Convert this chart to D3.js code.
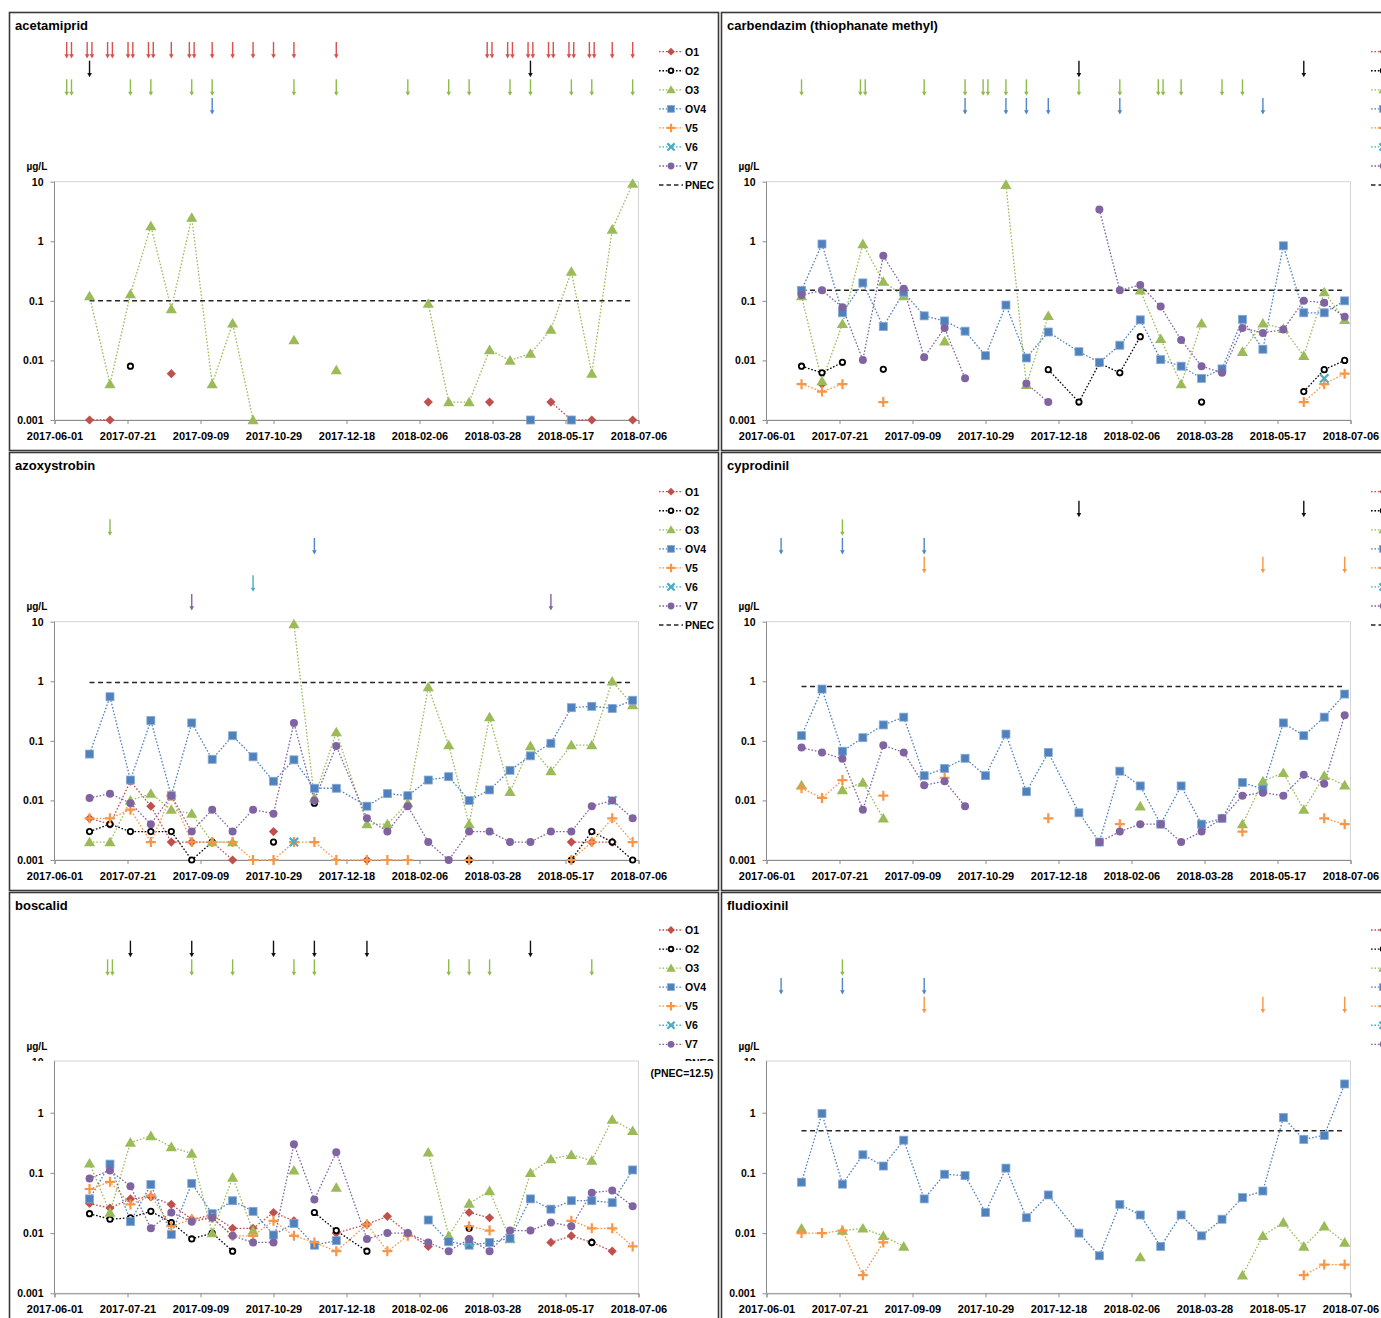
<!DOCTYPE html>
<html><head><meta charset="utf-8">
<script src="https://cdn.jsdelivr.net/npm/d3@7"></script>
<style>
body{margin:0;background:#fff}
svg{display:block;background:#fff}
</style>
</head><body>
<svg id="c" width="1381" height="1318"></svg>
<script>
const _ = null;
// sampling dates (27 campaigns)
const dates = ["2017-06-25","2017-07-09","2017-07-23","2017-08-06","2017-08-20","2017-09-03","2017-09-17","2017-10-01","2017-10-15","2017-10-29","2017-11-12","2017-11-26","2017-12-11","2018-01-01","2018-01-15","2018-01-29","2018-02-12","2018-02-26","2018-03-12","2018-03-26","2018-04-09","2018-04-23","2018-05-07","2018-05-21","2018-06-04","2018-06-18","2018-07-02"];
const xTickLabels = ["2017-06-01","2017-07-21","2017-09-09","2017-10-29","2017-12-18","2018-02-06","2018-03-28","2018-05-17","2018-07-06"];
const yTickValues = [0.001,0.01,0.1,1,10];
const yTickLabels = ["0.001","0.01","0.1","1","10"];
const stations = ["O1","O2","O3","OV4","V5","V6","V7"];
const legendLabels = ["O1","O2","O3","OV4","V5","V6","V7","PNEC"];
const titles = ["acetamiprid","carbendazim (thiophanate methyl)","azoxystrobin","cyprodinil","boscalid","fludioxinil"];
const pnecValues = [0.1,0.15,0.95,0.82,12.5,0.5];
const pnecNote = "(PNEC=12.5)";

// ---- acetamiprid (µg/L)
const acetamiprid_O1 = [0.001,0.001,_,_,0.006,_,_,_,_,_,_,_,_,_,_,_,0.002,_,_,0.002,_,_,0.002,0.001,0.001,_,0.001];
const acetamiprid_O2 = [_,_,0.008,_,_,_,_,_,_,_,_,_,_,_,_,_,_,_,_,_,_,_,_,_,_,_,_];
const acetamiprid_O3 = [0.12,0.004,0.13,1.8,0.073,2.5,0.004,0.042,0.001,_,0.022,_,0.0069,_,_,_,0.09,0.002,0.002,0.015,0.01,0.013,0.033,0.31,0.006,1.58,9.3];
const acetamiprid_OV4 = [_,_,_,_,_,_,_,_,_,_,_,_,_,_,_,_,_,_,_,_,_,0.001,_,0.001,_,_,_];
// ---- carbendazim
const carbendazim_O1 = [_,0.004,_,_,_,_,_,_,_,_,_,_,_,_,_,_,_,_,_,_,_,_,_,_,_,_,_];
const carbendazim_O2 = [0.008,0.0062,0.0093,_,0.0071,_,_,_,_,_,_,_,0.007,0.002,0.009,0.0062,0.025,_,_,0.002,_,_,_,_,0.003,0.007,0.01];
const carbendazim_O3 = [0.12,0.0045,0.041,0.9,0.21,0.12,_,0.021,_,_,8.9,0.0039,0.056,_,_,_,0.15,0.023,0.004,0.042,_,0.014,0.042,0.034,0.012,0.14,0.048];
const carbendazim_OV4 = [0.15,0.9,0.063,0.2,0.037,0.14,0.056,0.046,0.031,0.012,0.085,0.011,0.03,0.014,0.0093,0.018,0.048,0.0103,0.008,0.005,0.0072,0.049,0.0154,0.84,0.063,0.063,0.1];
const carbendazim_V5 = [0.004,0.003,0.004,_,0.002,_,_,_,_,_,_,_,_,_,_,_,_,_,_,_,_,_,_,_,0.002,0.004,0.006];
const carbendazim_V6 = [_,_,_,_,_,_,_,_,_,_,_,_,_,_,_,_,_,_,_,_,_,_,_,_,_,0.005,_];
const carbendazim_V7 = [0.125,0.15,0.078,0.0102,0.57,0.16,0.0113,0.035,0.005,_,_,0.0041,0.002,_,3.4,0.15,0.185,0.08,0.022,0.008,0.0062,0.035,0.029,0.033,0.1,0.093,0.054];
// ---- azoxystrobin
const azoxystrobin_O1 = [0.005,0.004,0.021,0.008,0.002,0.002,0.002,0.001,_,0.003,_,_,_,0.001,_,_,_,_,0.001,_,_,_,_,0.002,0.002,0.002,_];
const azoxystrobin_O2 = [0.003,0.004,0.003,0.003,0.003,0.001,0.002,_,_,0.002,_,0.009,_,_,_,_,_,_,0.001,_,_,_,_,0.001,0.003,0.002,0.001];
const azoxystrobin_O3 = [0.002,0.002,0.01,0.013,0.007,0.006,0.002,0.002,_,_,9.1,0.011,0.14,0.004,0.004,0.009,0.8,0.085,0.004,0.25,0.014,0.082,0.031,0.085,0.085,1.0,0.4];
const azoxystrobin_OV4 = [0.06,0.55,0.022,0.22,0.012,0.2,0.049,0.122,0.054,0.021,0.048,0.016,0.016,0.008,0.013,0.012,0.022,0.025,0.01,0.015,0.032,0.056,0.091,0.36,0.38,0.35,0.48];
const azoxystrobin_V5 = [0.005,0.005,0.007,0.002,0.012,0.002,0.002,0.002,0.001,0.001,0.002,0.002,0.001,0.001,0.001,0.001,_,_,0.001,_,_,_,_,0.001,0.002,0.005,0.002];
const azoxystrobin_V6 = [_,_,_,_,_,_,_,_,_,_,0.002,_,_,_,_,_,_,_,_,_,_,_,_,_,_,0.01,_];
const azoxystrobin_V7 = [0.011,0.013,0.009,0.004,0.012,0.003,0.007,0.003,0.007,0.006,0.2,0.01,0.082,0.005,0.003,0.008,0.002,0.001,0.003,0.003,0.002,0.002,0.003,0.003,0.008,0.01,0.005];
// ---- cyprodinil
const cyprodinil_O3 = [0.018,_,0.015,0.02,0.005,_,_,_,_,_,_,_,_,_,_,_,0.008,_,_,_,_,0.004,0.021,0.029,0.007,0.026,0.018];
const cyprodinil_OV4 = [0.122,0.74,0.067,0.113,0.185,0.25,0.026,0.0345,0.051,0.026,0.13,0.014,0.064,0.0062,0.002,0.031,0.0175,0.004,0.0175,0.004,0.005,0.02,0.0155,0.2,0.122,0.25,0.61];
const cyprodinil_V5 = [0.016,0.011,0.022,_,0.012,_,_,0.024,_,_,_,_,0.005,_,_,0.004,_,_,_,_,_,0.003,_,_,_,0.005,0.004];
const cyprodinil_V7 = [0.077,0.064,0.05,0.007,0.084,0.064,0.018,0.021,0.008,_,_,_,_,_,0.002,0.003,0.004,0.004,0.002,0.003,0.005,0.012,0.0135,0.012,0.027,0.019,0.27];
// ---- boscalid
const boscalid_O1 = [0.031,0.026,0.037,0.04,0.03,0.017,0.02,0.012,0.012,0.022,0.016,_,0.01,0.014,0.019,0.01,0.006,_,0.022,0.018,_,_,0.007,0.009,0.007,0.005,_];
const boscalid_O2 = [0.021,0.017,0.018,0.023,0.015,0.008,0.01,0.005,_,_,_,0.022,0.011,0.005,_,_,_,_,0.012,_,_,_,_,_,0.007,_,_];
const boscalid_O3 = [0.144,0.022,0.32,0.41,0.27,0.21,0.01,0.084,0.011,_,0.11,_,0.057,_,_,_,0.22,0.009,0.031,0.05,0.008,0.1,0.17,0.2,0.16,0.77,0.5];
const boscalid_OV4 = [0.037,0.14,0.0155,0.064,0.0095,0.067,0.021,0.0345,0.023,0.0093,0.0145,0.0063,0.0075,_,_,_,0.0165,0.0072,0.0063,0.007,0.0082,0.037,0.025,0.0345,0.0345,0.032,0.112];
const boscalid_V5 = [0.054,0.071,0.03,0.042,0.013,0.017,0.018,0.009,0.009,0.016,0.009,0.007,0.005,0.014,0.005,0.009,_,_,0.013,0.011,_,_,_,0.016,0.012,0.012,0.006];
const boscalid_V6 = [_,_,_,_,_,_,_,_,_,_,_,_,_,_,_,_,_,_,0.007,_,_,_,_,_,_,_,_];
const boscalid_V7 = [0.081,0.11,0.06,0.012,0.022,0.0155,0.018,0.009,0.007,0.007,0.3,0.036,0.22,0.008,0.01,0.01,0.007,0.005,0.008,0.005,0.011,0.011,0.015,0.013,0.047,0.051,0.028];
// ---- fludioxinil
const fludioxinil_O3 = [0.012,_,0.011,0.012,0.009,0.006,_,_,_,_,_,_,_,_,_,_,0.004,_,_,_,_,0.002,0.009,0.015,0.006,0.013,0.007];
const fludioxinil_OV4 = [0.07,0.97,0.065,0.2,0.13,0.35,0.037,0.095,0.09,0.022,0.12,0.018,0.043,0.01,0.0042,0.03,0.02,0.006,0.02,0.009,0.017,0.039,0.05,0.83,0.36,0.42,3.0];
const fludioxinil_V5 = [0.01,0.01,0.011,0.002,0.007,_,_,_,_,_,_,_,_,_,_,_,_,_,_,_,_,_,_,_,0.002,0.003,0.003];

// ---- application arrows: [date, number of arrows]
const acetamiprid_arrows_O1 = [["2017-06-11",2],["2017-06-25",2],["2017-07-09",2],["2017-07-23",2],["2017-08-06",2],["2017-08-20",1],["2017-09-03",2],["2017-09-17",1],["2017-10-01",1],["2017-10-15",1],["2017-10-29",1],["2017-11-12",1],["2017-12-11",1],["2018-03-26",2],["2018-04-09",2],["2018-04-23",2],["2018-05-07",2],["2018-05-21",2],["2018-06-04",2],["2018-06-18",1],["2018-07-02",1]];
const acetamiprid_arrows_O2 = [["2017-06-25",1],["2018-04-23",1]];
const acetamiprid_arrows_O3 = [["2017-06-11",2],["2017-07-23",1],["2017-08-06",1],["2017-09-03",1],["2017-09-17",1],["2017-11-12",1],["2017-12-11",1],["2018-01-29",1],["2018-02-26",1],["2018-03-12",1],["2018-04-09",1],["2018-04-23",1],["2018-05-21",1],["2018-06-04",1],["2018-07-02",1]];
const acetamiprid_arrows_OV4 = [["2017-09-17",1]];
const carbendazim_arrows_O2 = [["2018-01-01",1],["2018-06-04",1]];
const carbendazim_arrows_O3 = [["2017-06-25",1],["2017-08-06",2],["2017-09-17",1],["2017-10-15",1],["2017-10-29",2],["2017-11-12",1],["2017-11-26",1],["2018-01-01",1],["2018-01-29",1],["2018-02-26",2],["2018-03-12",1],["2018-04-09",1],["2018-04-23",1]];
const carbendazim_arrows_OV4 = [["2017-10-15",1],["2017-11-12",1],["2017-11-26",1],["2017-12-11",1],["2018-01-29",1],["2018-05-07",1]];
const azoxystrobin_arrows_O3 = [["2017-07-09",1]];
const azoxystrobin_arrows_OV4 = [["2017-11-26",1]];
const azoxystrobin_arrows_V6 = [["2017-10-15",1]];
const azoxystrobin_arrows_V7 = [["2017-09-03",1],["2018-05-07",1]];
const cyprodinil_arrows_O2 = [["2018-01-01",1],["2018-06-04",1]];
const cyprodinil_arrows_O3 = [["2017-07-23",1]];
const cyprodinil_arrows_OV4 = [["2017-06-11",1],["2017-07-23",1],["2017-09-17",1]];
const cyprodinil_arrows_V5 = [["2017-09-17",1],["2018-05-07",1],["2018-07-02",1]];
const boscalid_arrows_O2 = [["2017-07-23",1],["2017-09-03",1],["2017-10-29",1],["2017-11-26",1],["2018-01-01",1],["2018-04-23",1]];
const boscalid_arrows_O3 = [["2017-07-09",2],["2017-09-03",1],["2017-10-01",1],["2017-11-12",1],["2017-11-26",1],["2018-02-26",1],["2018-03-12",1],["2018-03-26",1],["2018-06-04",1]];
const fludioxinil_arrows_O3 = [["2017-07-23",1]];
const fludioxinil_arrows_OV4 = [["2017-06-11",1],["2017-07-23",1],["2017-09-17",1]];
const fludioxinil_arrows_V5 = [["2017-09-17",1],["2018-05-07",1],["2018-07-02",1]];

// ---------------- rendering ----------------
const W = 1381;
const FONT = '"Liberation Sans", Arial, sans-serif';
const COLORS = {O1:'#c0504d',O2:'#000000',O3:'#9bbb59',OV4:'#4f81bd',V5:'#f79646',V6:'#4bacc6',V7:'#8064a2'};
const ARROWC = {O1:'#d9504c',O2:'#111111',O3:'#8fbb4a',OV4:'#4a86c8',V5:'#f79646',V6:'#3fb0cc',V7:'#8064a2'};
const parse = d3.utcParse('%Y-%m-%d');
const svg = d3.select('#c');

const panelDefs = [
  {series:{O1:acetamiprid_O1,O2:acetamiprid_O2,O3:acetamiprid_O3,OV4:acetamiprid_OV4},
   arrows:{O1:acetamiprid_arrows_O1,O2:acetamiprid_arrows_O2,O3:acetamiprid_arrows_O3,OV4:acetamiprid_arrows_OV4}},
  {series:{O1:carbendazim_O1,O2:carbendazim_O2,O3:carbendazim_O3,OV4:carbendazim_OV4,V5:carbendazim_V5,V6:carbendazim_V6,V7:carbendazim_V7},
   arrows:{O2:carbendazim_arrows_O2,O3:carbendazim_arrows_O3,OV4:carbendazim_arrows_OV4}},
  {series:{O1:azoxystrobin_O1,O2:azoxystrobin_O2,O3:azoxystrobin_O3,OV4:azoxystrobin_OV4,V5:azoxystrobin_V5,V6:azoxystrobin_V6,V7:azoxystrobin_V7},
   arrows:{O3:azoxystrobin_arrows_O3,OV4:azoxystrobin_arrows_OV4,V6:azoxystrobin_arrows_V6,V7:azoxystrobin_arrows_V7}},
  {series:{O3:cyprodinil_O3,OV4:cyprodinil_OV4,V5:cyprodinil_V5,V7:cyprodinil_V7},
   arrows:{O2:cyprodinil_arrows_O2,O3:cyprodinil_arrows_O3,OV4:cyprodinil_arrows_OV4,V5:cyprodinil_arrows_V5}},
  {series:{O1:boscalid_O1,O2:boscalid_O2,O3:boscalid_O3,OV4:boscalid_OV4,V5:boscalid_V5,V6:boscalid_V6,V7:boscalid_V7},
   arrows:{O2:boscalid_arrows_O2,O3:boscalid_arrows_O3}},
  {series:{O3:fludioxinil_O3,OV4:fludioxinil_OV4,V5:fludioxinil_V5},
   arrows:{O3:fludioxinil_arrows_O3,OV4:fludioxinil_arrows_OV4,V5:fludioxinil_arrows_V5}}
];
panelDefs.forEach((p,i)=>{p.title=titles[i]; p.pnec=pnecValues[i];});

const colX = [9.5, 721.5];
const rowY = [12.5, 452.5, 892.5];

function drawMarker(g, st, cx, cy, k) {
  k = k || 1;
  const c = COLORS[st];
  if (st==='O1') {
    const s=4.6*k;
    g.append('path').attr('d',`M${cx},${cy-s}L${cx+s},${cy}L${cx},${cy+s}L${cx-s},${cy}Z`).attr('fill',c);
  } else if (st==='O2') {
    g.append('circle').attr('cx',cx).attr('cy',cy).attr('r',2.7*k).attr('fill','#fff').attr('stroke','#000').attr('stroke-width',1.8);
  } else if (st==='O3') {
    g.append('path').attr('d',`M${cx},${cy-5.4*k}L${cx+5.6*k},${cy+4.2*k}L${cx-5.6*k},${cy+4.2*k}Z`).attr('fill',c);
  } else if (st==='OV4') {
    const s=4*k;
    g.append('rect').attr('x',cx-s).attr('y',cy-s).attr('width',2*s).attr('height',2*s).attr('fill',c).attr('stroke','#86a9d4').attr('stroke-width',0.8);
  } else if (st==='V5') {
    const s=5*k;
    g.append('path').attr('d',`M${cx-s},${cy}H${cx+s}M${cx},${cy-s}V${cy+s}`).attr('stroke',c).attr('stroke-width',2.2).attr('fill','none');
  } else if (st==='V6') {
    const s=4.2*k;
    g.append('path').attr('d',`M${cx-s},${cy-s}L${cx+s},${cy+s}M${cx-s},${cy+s}L${cx+s},${cy-s}`).attr('stroke',c).attr('stroke-width',2.2).attr('fill','none');
  } else if (st==='V7') {
    g.append('circle').attr('cx',cx).attr('cy',cy).attr('r',4*k).attr('fill',c);
  }
}

function drawArrow(g, cx, top, color) {
  const len = 16.5;
  g.append('line').attr('x1',cx).attr('x2',cx).attr('y1',top).attr('y2',top+len-3).attr('stroke',color).attr('stroke-width',1.4);
  g.append('path').attr('d',`M${cx-2.3},${top+len-4.2}L${cx+2.3},${top+len-4.2}L${cx},${top+len}Z`).attr('fill',color);
}

const problems = [];

function drawPanel(def, idx) {
  const col = idx % 2, row = Math.floor(idx/2);
  const X0 = colX[col], Y0 = rowY[row], short = (row===2);
  const g = svg.append('g');
  const pl = X0 + 45, pr = pl + 584;
  const pt = Y0 + (short ? 168.5 : 169.2);
  const pb = Y0 + (short ? 400.8 : 407.5);
  const x = d3.scaleUtc().domain([parse(xTickLabels[0]), parse(xTickLabels[xTickLabels.length-1])]).range([pl, pr]);
  const y = short ? d3.scaleLog().domain([0.001, 1]).range([pb, Y0 + 220.2])
                  : d3.scaleLog().domain([0.001, 10]).range([pb, pt]);

  // panel frame
  g.append('rect').attr('x',X0).attr('y',Y0).attr('width', col===0 ? 709 : 720).attr('height', row===2 ? 470 : 438)
    .attr('fill','none').attr('stroke','#3a3a3a').attr('stroke-width',1.6);
  // title
  g.append('text').attr('x',X0+5.5).attr('y',Y0+17.5).attr('font-family',FONT).attr('font-weight','bold').attr('font-size',13).text(def.title);
  // unit
  g.append('text').attr('x',X0+17).attr('y',Y0+157.5).attr('font-family',FONT).attr('font-weight','bold').attr('font-size',10).text('µg/L');

  // plot area
  g.append('rect').attr('x',pl).attr('y',pt).attr('width',pr-pl).attr('height',pb-pt).attr('fill','#fff').attr('stroke','#d4d4d4').attr('stroke-width',1);

  // y axis
  const yUsed = yTickValues.filter(v => y(v) >= pt - 0.5);
  const ya = g.append('g').attr('transform',`translate(${pl},0)`)
    .call(d3.axisLeft(y).tickValues(yUsed).tickFormat(v => yTickLabels[yTickValues.indexOf(v)]).tickSize(4).tickPadding(7));
  ya.select('.domain').remove();
  ya.selectAll('line').attr('stroke','#8c8c8c');
  ya.selectAll('text').attr('font-family',FONT).attr('font-weight','bold').attr('font-size',10.5).attr('fill','#000');
  if (short) {
    const cid = 'clip10_' + idx;
    svg.append('clipPath').attr('id',cid).append('rect').attr('x',X0).attr('y',Y0+165.5).attr('width',60).attr('height',3);
    g.append('text').attr('x',pl-11).attr('y',pt+1.5).attr('dy','0.32em').attr('text-anchor','end').attr('clip-path',`url(#${cid})`)
      .attr('font-family',FONT).attr('font-weight','bold').attr('font-size',10.5).text(yTickLabels[4]);
  }
  g.append('line').attr('x1',pl).attr('x2',pl).attr('y1',pt).attr('y2',pb).attr('stroke','#8c8c8c');

  // x axis
  const xa = g.append('g').attr('transform',`translate(0,${pb})`)
    .call(d3.axisBottom(x).tickValues(xTickLabels.map(parse)).tickFormat((d,i) => xTickLabels[i]).tickSize(4).tickPadding(8));
  xa.select('.domain').attr('stroke','#8c8c8c');
  xa.selectAll('line').attr('stroke','#8c8c8c');
  xa.selectAll('text').attr('font-family',FONT).attr('font-weight','bold').attr('font-size',11).attr('fill','#000');

  // series lines
  const line = d3.line().defined(d => d != null).x(d => x(d.d)).y(d => y(d.v));
  const seriesPts = {};
  stations.forEach(st => {
    const vals = def.series[st];
    if (!vals) return;
    if (vals.length !== dates.length) problems.push(def.title + ' ' + st + ' len ' + vals.length);
    const pts = vals.map((v,i) => v == null ? null : {d: parse(dates[i]), v});
    seriesPts[st] = pts;
    g.append('path').attr('d', line(pts)).attr('fill','none').attr('stroke',COLORS[st])
      .attr('stroke-width',1.3).attr('stroke-dasharray','1.6,1.8');
  });
  // PNEC
  if (def.pnec <= y.invert(pt)) {
    g.append('line').attr('x1',x(parse(dates[0]))).attr('x2',x(parse(dates[dates.length-1])))
      .attr('y1',y(def.pnec)).attr('y2',y(def.pnec)).attr('stroke','#262626').attr('stroke-width',1.5).attr('stroke-dasharray','5,3.5');
  }
  // markers
  stations.forEach(st => {
    const pts = seriesPts[st];
    if (!pts) return;
    pts.forEach(d => { if (d) drawMarker(g, st, x(d.d), y(d.v)); });
  });

  // arrows
  stations.forEach((st, r) => {
    const arr = def.arrows[st];
    if (!arr) return;
    const top = Y0 + 29.5 + 18.67 * r;
    arr.forEach(([ds, n]) => {
      const cx = x(parse(ds));
      if (n === 2) { drawArrow(g, cx-2.4, top, ARROWC[st]); drawArrow(g, cx+2.4, top, ARROWC[st]); }
      else drawArrow(g, cx, top, ARROWC[st]);
    });
  });

  // legend (right-column legends run off the page edge, as in the original figure)
  const ly0 = Y0 + (short ? 37.5 : 39.2);
  const lx = X0 + 649.5;
  legendLabels.forEach((lab, i) => {
    const ly = ly0 + 19.05 * i;
    if (lab === 'PNEC') {
      g.append('line').attr('x1',lx).attr('x2',lx+24).attr('y1',ly).attr('y2',ly).attr('stroke','#262626').attr('stroke-width',1.5).attr('stroke-dasharray','4.5,3');
    } else {
      g.append('line').attr('x1',lx).attr('x2',lx+24).attr('y1',ly).attr('y2',ly).attr('stroke',COLORS[lab]).attr('stroke-width',1.3).attr('stroke-dasharray','1.6,1.8');
      drawMarker(g, lab, lx+12, ly, 0.85);
    }
    if (lx + 26 < W) {
      g.append('text').attr('x',lx+26).attr('y',ly+3.8).attr('font-family',FONT).attr('font-weight','bold').attr('font-size',10.5).text(lab);
    }
  });
  if (short) {
    g.append('rect').attr('x',X0+641).attr('y',Y0+168.5).attr('width',col===0 ? 66 : 80).attr('height',14).attr('fill','#fff');
    if (def.pnec > y.invert(pt)) {
      g.append('text').attr('x',X0+641).attr('y',Y0+184).attr('font-family',FONT).attr('font-weight','bold').attr('font-size',10.5).text(pnecNote);
    }
  }
}

panelDefs.forEach(drawPanel);
if (problems.length) svg.append('text').attr('x',300).attr('y',700).attr('fill','red').attr('font-size',20).text(problems.join('; '));
</script>
</body></html>
